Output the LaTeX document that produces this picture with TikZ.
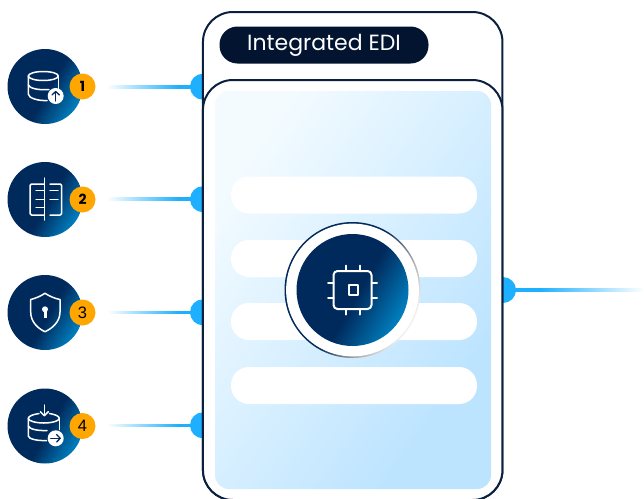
\documentclass[tikz,border=0pt]{standalone}
\usepackage{fontspec}
\setmainfont{Poppins}
\newfontfamily\plainnum{Liberation Sans}
\usetikzlibrary{calc}
\definecolor{framenavy}{HTML}{0B1F3F}
\definecolor{pillnavy}{HTML}{02142F}
\definecolor{discnavy}{HTML}{002A5C}
\definecolor{discblue}{HTML}{007CBC}
\definecolor{wireblue}{HTML}{1EB0FF}
\definecolor{badgeamber}{HTML}{FFA600}
\definecolor{panellight}{HTML}{F3FBFF}
\definecolor{paneldeep}{HTML}{BDE4FF}
\pgfdeclarehorizontalshading{discshade}{100bp}{color(0bp)=(discnavy); color(53bp)=(discnavy); color(74bp)=(discblue); color(100bp)=(discblue)}
\pgfdeclarehorizontalshading{ringshade}{100bp}{color(0bp)=(discnavy); color(50bp)=(discnavy); color(63bp)=(black!35); color(74bp)=(black!6); color(100bp)=(black!6)}
\pgfdeclarehorizontalshading{wireshade}{100bp}{color(0bp)=(white); color(25bp)=(white); color(62bp)=(wireblue); color(100bp)=(wireblue)}
\pgfdeclarehorizontalshading{panelshade}{100bp}{color(0bp)=(panellight); color(25bp)=(panellight); color(71bp)=(paneldeep); color(100bp)=(paneldeep)}
\tikzset{
  frame/.style={draw=framenavy,line width=2pt,fill=white,rounded corners=30pt,inner sep=0pt,outer sep=0pt,minimum width=299.5pt},
  panel/.style={shade,shading=panelshade,shading angle=-35,rounded corners=14pt,inner sep=0pt,outer sep=0pt,minimum width=276pt,minimum height=398pt},
  bar/.style={fill=white,rounded corners=18pt,inner sep=0pt,outer sep=0pt,minimum width=246pt,minimum height=37pt},
  pill/.style={fill=pillnavy,text=white,rounded corners=18pt,inner sep=0pt,minimum width=209pt,minimum height=37pt,font=\fontsize{22}{26}\selectfont},
  icondisc/.style={circle,shade,shading=discshade,shading angle=-30,inner sep=0pt,minimum size=75pt},
  badge/.style={circle,fill=badgeamber,text=black,inner sep=0pt,minimum size=26pt,font=\fontsize{14}{16}\selectfont\bfseries},
  plainbadge/.style={badge,font=\fontsize{16.5}{18}\plainnum},
  dot/.style={circle,fill=wireblue,inner sep=0pt,minimum size=26pt},
  wire/.style={shade,shading=wireshade},
  minidisc/.style={circle,fill=white,inner sep=0pt,minimum size=16pt},
  iconline/.style={draw=white,line width=1.5pt,line cap=round,line join=round},
  chipline/.style={iconline,line width=2pt},
  miniline/.style={draw=discnavy,line width=1.3pt,line cap=round,line join=round}
}
\begin{document}
\begin{tikzpicture}[x=1pt,y=-1pt]
\useasboundingbox (0,0) rectangle (644,498);

\coordinate (wire1) at (107,86.7);
\coordinate (wire2) at (107,199.2);
\coordinate (wire3) at (107,312.3);
\coordinate (wire4) at (107,425.3);
\coordinate (wireout) at (644,290);
\node[dot] (dot1) at (203,86.7) {};
\node[dot] (dot2) at (203,199.2) {};
\node[dot] (dot3) at (203,312.3) {};
\node[dot] (dot4) at (203,425.3) {};
\node[dot] (dotout) at (503,290) {};
\shade[wire] ($(wire1)+(0,-1.3)$) rectangle ($(dot1)+(0,1.3)$);
\shade[wire] ($(wire2)+(0,-1.3)$) rectangle ($(dot2)+(0,1.3)$);
\shade[wire] ($(wire3)+(0,-1.3)$) rectangle ($(dot3)+(0,1.3)$);
\shade[wire] ($(wire4)+(0,-1.3)$) rectangle ($(dot4)+(0,1.3)$);
\shade[wire,shading angle=180] ($(dotout)+(0,-1.3)$) rectangle ($(wireout)+(0,1.3)$);

\node[frame,minimum height=488pt] (outer) at (352.7,256) {};
\node[frame,minimum height=420pt] (inner) at (352.7,290) {};
\node[pill] (title) at (324,45) {\raisebox{-2pt}{Integrated EDI}};
\node[panel] (screen) at (353,290) {};
\node[bar] (bar1) at (354,195) {};
\node[bar] (bar2) at (354,258.5) {};
\node[bar] (bar3) at (354,321.5) {};
\node[bar] (bar4) at (354,385.5) {};

\node[circle,shade,shading=ringshade,shading angle=-30,inner sep=0pt,minimum size=136pt] (ring) at (352.5,290) {};
\node[circle,fill=white,inner sep=0pt,minimum size=132.8pt] (ringgap) at (352.5,290) {};
\node[icondisc,minimum size=112pt] (core) at (352.5,290) {};
\draw[chipline,rounded corners=4pt] (333.5,271) rectangle (371.5,309);
\draw[chipline,line cap=butt] (348.5,285) rectangle (357.5,295);
\draw[chipline] (346,265.5) -- (346,271);
\draw[chipline] (360,265.5) -- (360,271);
\draw[chipline] (346,309) -- (346,314.5);
\draw[chipline] (360,309) -- (360,314.5);
\draw[chipline] (328,282.5) -- (333.5,282.5);
\draw[chipline] (328,297.5) -- (333.5,297.5);
\draw[chipline] (371.5,282.5) -- (377,282.5);
\draw[chipline] (371.5,297.5) -- (377,297.5);

\node[icondisc] (disc1) at (45,86.5) {};
\node[icondisc] (disc2) at (45,199.5) {};
\node[icondisc] (disc3) at (45,312.5) {};
\node[icondisc] (disc4) at (45,426) {};
\node[badge] (badge1) at (82.5,86.5) {1};
\node[badge] (badge2) at (82.5,199.5) {2};
\node[plainbadge] (badge3) at (82.5,312.5) {3};
\node[plainbadge] (badge4) at (82.5,426) {4};

\draw[iconline] (43.3,76) ellipse (15 and 4.5);
\draw[iconline] (28.3,76) -- (28.3,94) .. controls (28.3,98) and (38,101) .. (47,100.5);
\draw[iconline] (28.3,85) .. controls (29,88) and (38,90.5) .. (49,89.5);
\draw[iconline] (58.3,76) -- (58.3,89);
\node[minidisc] (mini1) at (55.7,96) {};
\draw[miniline] (55.7,101) -- (55.7,91.5);
\draw[miniline] (52,95) -- (55.7,91.5) -- (59.4,95);

\draw[iconline] (44.3,178) -- (44.3,220);
\draw[iconline,rounded corners=1.5pt] (44.3,184) -- (30,184) -- (30,215) -- (44.3,215);
\draw[iconline,rounded corners=1.5pt] (50,184) -- (61.7,184) -- (61.7,215) -- (50,215);
\draw[iconline] (36,190.7) -- (44.3,190.7);
\draw[iconline] (36,199.3) -- (44.3,199.3);
\draw[iconline] (36,207.7) -- (44.3,207.7);
\draw[iconline] (50,190.7) -- (58,190.7);
\draw[iconline] (50,199.3) -- (58,199.3);

\draw[iconline] (45,293.3) .. controls (50,296.5) and (55,298.5) .. (60,299.5) -- (60,312) .. controls (60,322) and (52,328.5) .. (45,331.7) .. controls (38,328.5) and (30.7,322) .. (30.7,312) -- (30.7,299.5) .. controls (35,298.5) and (40,296.5) .. (45,293.3) -- cycle;
\fill[white] (45,309.3) circle (3);
\fill[white] (43.5,310) rectangle (46.5,317.7);

\draw[iconline] (39,413.5) .. controls (33,414.5) and (28.3,416) .. (28.3,418.5) .. controls (28.3,421) and (36,423) .. (43.8,423) .. controls (51.5,423) and (59.3,421) .. (59.3,418.5) .. controls (59.3,416) and (55,414.5) .. (49.5,413.5);
\draw[iconline] (28.3,418.5) -- (28.3,436) .. controls (28.3,439) and (38,441) .. (46.5,440.5);
\draw[iconline] (28.3,426) .. controls (29,429) and (38,431) .. (47,430.5);
\draw[iconline] (59.3,418.5) -- (59.3,429.5);
\draw[iconline] (44.3,405) -- (44.3,415.7);
\draw[iconline] (40.3,411.7) -- (44.3,415.7) -- (48.3,411.7);
\node[minidisc] (mini4) at (55.7,438.3) {};
\draw[miniline] (50.7,438.3) -- (60.2,438.3);
\draw[miniline] (56.7,434.6) -- (60.2,438.3) -- (56.7,442);
\end{tikzpicture}
\end{document}
